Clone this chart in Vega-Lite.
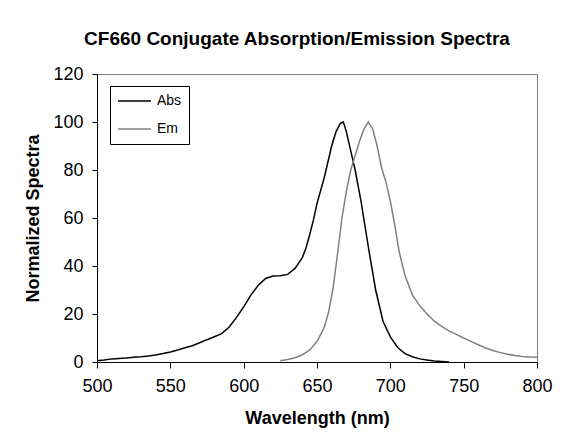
{
  "$schema": "https://vega.github.io/schema/vega-lite/v6.json",
  "autosize": {"type": "none"},
  "width": 440,
  "height": 288,
  "padding": {"left": 97, "top": 74, "right": 43, "bottom": 80},
  "background": "white",
  "config": {
    "font": "Liberation Sans",
    "view": {"stroke": "#808080", "strokeWidth": 1},
    "axis": {
      "grid": false,
      "domainColor": "#000000",
      "tickColor": "#000000",
      "labelColor": "#000000",
      "titleColor": "#000000",
      "labelFont": "Liberation Sans",
      "titleFont": "Liberation Sans",
      "labelFontSize": 18,
      "titleFontSize": 18,
      "titleFontWeight": "bold"
    }
  },
  "title": {
    "text": "CF660 Conjugate Absorption/Emission Spectra",
    "font": "Liberation Sans",
    "fontSize": 19,
    "fontWeight": "bold",
    "color": "#000000",
    "anchor": "middle",
    "dx": -20,
    "offset": 16
  },
  "data": {
    "values": [
      {"wl": 500, "v": 0.5, "s": "Abs"},
      {"wl": 505, "v": 0.8, "s": "Abs"},
      {"wl": 510, "v": 1.3, "s": "Abs"},
      {"wl": 515, "v": 1.5, "s": "Abs"},
      {"wl": 520, "v": 1.7, "s": "Abs"},
      {"wl": 525, "v": 2.0, "s": "Abs"},
      {"wl": 530, "v": 2.2, "s": "Abs"},
      {"wl": 535, "v": 2.5, "s": "Abs"},
      {"wl": 540, "v": 2.9, "s": "Abs"},
      {"wl": 545, "v": 3.5, "s": "Abs"},
      {"wl": 550, "v": 4.2, "s": "Abs"},
      {"wl": 555, "v": 5.0, "s": "Abs"},
      {"wl": 560, "v": 5.9, "s": "Abs"},
      {"wl": 565, "v": 6.8, "s": "Abs"},
      {"wl": 570, "v": 8.0, "s": "Abs"},
      {"wl": 575, "v": 9.3, "s": "Abs"},
      {"wl": 580, "v": 10.5, "s": "Abs"},
      {"wl": 585, "v": 11.8, "s": "Abs"},
      {"wl": 590, "v": 14.5, "s": "Abs"},
      {"wl": 595, "v": 18.5, "s": "Abs"},
      {"wl": 600, "v": 23, "s": "Abs"},
      {"wl": 605, "v": 28, "s": "Abs"},
      {"wl": 610, "v": 32, "s": "Abs"},
      {"wl": 615, "v": 34.8, "s": "Abs"},
      {"wl": 620, "v": 35.8, "s": "Abs"},
      {"wl": 625, "v": 35.9, "s": "Abs"},
      {"wl": 630, "v": 36.5, "s": "Abs"},
      {"wl": 635, "v": 39, "s": "Abs"},
      {"wl": 640, "v": 43.5, "s": "Abs"},
      {"wl": 642.5, "v": 47.5, "s": "Abs"},
      {"wl": 645, "v": 53, "s": "Abs"},
      {"wl": 647.5, "v": 59, "s": "Abs"},
      {"wl": 650, "v": 66, "s": "Abs"},
      {"wl": 655, "v": 77, "s": "Abs"},
      {"wl": 660, "v": 90, "s": "Abs"},
      {"wl": 663, "v": 96, "s": "Abs"},
      {"wl": 666, "v": 99.5, "s": "Abs"},
      {"wl": 668, "v": 100, "s": "Abs"},
      {"wl": 670, "v": 96, "s": "Abs"},
      {"wl": 673, "v": 88, "s": "Abs"},
      {"wl": 676, "v": 80, "s": "Abs"},
      {"wl": 680, "v": 67, "s": "Abs"},
      {"wl": 685, "v": 48, "s": "Abs"},
      {"wl": 690, "v": 30, "s": "Abs"},
      {"wl": 695, "v": 17, "s": "Abs"},
      {"wl": 700, "v": 10.5, "s": "Abs"},
      {"wl": 705, "v": 6, "s": "Abs"},
      {"wl": 710, "v": 3.5, "s": "Abs"},
      {"wl": 715, "v": 2.2, "s": "Abs"},
      {"wl": 720, "v": 1.3, "s": "Abs"},
      {"wl": 725, "v": 0.8, "s": "Abs"},
      {"wl": 730, "v": 0.4, "s": "Abs"},
      {"wl": 735, "v": 0.2, "s": "Abs"},
      {"wl": 740, "v": 0, "s": "Abs"},
      {"wl": 625, "v": 0.5, "s": "Em"},
      {"wl": 630, "v": 1.0, "s": "Em"},
      {"wl": 635, "v": 1.8, "s": "Em"},
      {"wl": 640, "v": 3.0, "s": "Em"},
      {"wl": 645, "v": 5.0, "s": "Em"},
      {"wl": 650, "v": 8.5, "s": "Em"},
      {"wl": 655, "v": 14.5, "s": "Em"},
      {"wl": 658, "v": 21, "s": "Em"},
      {"wl": 661, "v": 31, "s": "Em"},
      {"wl": 664, "v": 45, "s": "Em"},
      {"wl": 667, "v": 60, "s": "Em"},
      {"wl": 670, "v": 71, "s": "Em"},
      {"wl": 673, "v": 80, "s": "Em"},
      {"wl": 676, "v": 86, "s": "Em"},
      {"wl": 679, "v": 92, "s": "Em"},
      {"wl": 682, "v": 97, "s": "Em"},
      {"wl": 685, "v": 100, "s": "Em"},
      {"wl": 688, "v": 97, "s": "Em"},
      {"wl": 691, "v": 90, "s": "Em"},
      {"wl": 694, "v": 81, "s": "Em"},
      {"wl": 697, "v": 75, "s": "Em"},
      {"wl": 700, "v": 67, "s": "Em"},
      {"wl": 703, "v": 57, "s": "Em"},
      {"wl": 706, "v": 46, "s": "Em"},
      {"wl": 710, "v": 36, "s": "Em"},
      {"wl": 715, "v": 28, "s": "Em"},
      {"wl": 720, "v": 23.5, "s": "Em"},
      {"wl": 725, "v": 20, "s": "Em"},
      {"wl": 730, "v": 17, "s": "Em"},
      {"wl": 735, "v": 14.8, "s": "Em"},
      {"wl": 740, "v": 13, "s": "Em"},
      {"wl": 745, "v": 11.5, "s": "Em"},
      {"wl": 750, "v": 10, "s": "Em"},
      {"wl": 755, "v": 8.6, "s": "Em"},
      {"wl": 760, "v": 7.2, "s": "Em"},
      {"wl": 765, "v": 5.8, "s": "Em"},
      {"wl": 770, "v": 4.8, "s": "Em"},
      {"wl": 775, "v": 3.9, "s": "Em"},
      {"wl": 780, "v": 3.2, "s": "Em"},
      {"wl": 785, "v": 2.7, "s": "Em"},
      {"wl": 790, "v": 2.3, "s": "Em"},
      {"wl": 795, "v": 2.1, "s": "Em"},
      {"wl": 800, "v": 2.0, "s": "Em"}
    ]
  },
  "mark": {"type": "line", "strokeWidth": 1.5},
  "encoding": {
    "x": {
      "field": "wl",
      "type": "quantitative",
      "title": "Wavelength (nm)",
      "scale": {"domain": [500, 800], "nice": false, "zero": false},
      "axis": {"values": [500, 550, 600, 650, 700, 750, 800], "tickSize": 6, "labelPadding": 9, "titlePadding": 14, "labelFlush": false}
    },
    "y": {
      "field": "v",
      "type": "quantitative",
      "title": "Normalized Spectra",
      "scale": {"domain": [0, 120], "nice": false},
      "axis": {"values": [0, 20, 40, 60, 80, 100, 120], "tickSize": 5, "labelPadding": 9, "titlePadding": 10, "labelFlush": false}
    },
    "color": {
      "field": "s",
      "type": "nominal",
      "scale": {"domain": ["Abs", "Em"], "range": ["#000000", "#808080"]},
      "legend": {
        "title": null,
        "orient": "none",
        "legendX": 13,
        "legendY": 12,
        "padding": 7,
        "strokeColor": "#000000",
        "fillColor": "#ffffff",
        "symbolType": "stroke",
        "symbolSize": 1089,
        "symbolStrokeWidth": 1.5,
        "labelFontSize": 14,
        "labelColor": "#000000",
        "labelFont": "Liberation Sans",
        "labelOffset": 5,
        "clipHeight": 16,
        "rowPadding": 12
      }
    }
  }
}
